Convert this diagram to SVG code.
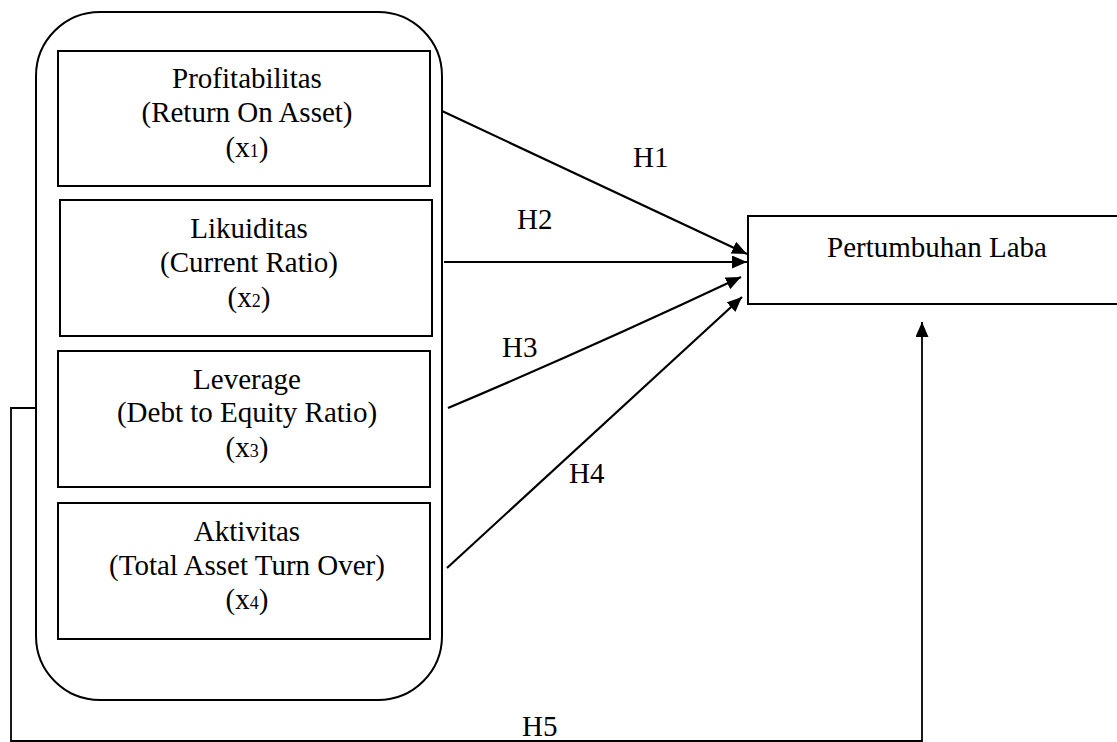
<svg xmlns="http://www.w3.org/2000/svg" width="1117" height="742" viewBox="0 0 1117 742">
<style>
  .box{fill:#fff;stroke:#000;stroke-width:2}
  .t{font-family:"Liberation Serif","Times New Roman",serif;font-size:29px;fill:#000;text-anchor:middle}
  .lbl{font-family:"Liberation Serif","Times New Roman",serif;font-size:29px;fill:#000}
  .sub{font-size:18px}
  .c{fill:none;stroke:#000;stroke-width:2.2}
  .c5{fill:none;stroke:#000;stroke-width:1.8}
</style>
<defs>
  <marker id="ah" markerUnits="userSpaceOnUse" markerWidth="16" markerHeight="14" refX="15" refY="6.5" orient="auto">
    <path d="M0,0 L15,6.5 L0,13 Z" fill="#000"/>
  </marker>
</defs>
<rect width="1117" height="742" fill="#fff"/>
<g id="group-outer">
  <rect class="box" x="36" y="12" width="406" height="688" rx="64" ry="64"/>
</g>
<g id="node-x1">
  <rect class="box" x="58" y="51" width="372" height="135"/>
  <text class="t" x="247" y="88">Profitabilitas</text>
  <text class="t" x="247" y="122">(Return On Asset)</text>
  <text class="t" x="247" y="157">(x<tspan class="sub">1</tspan>)</text>
</g>
<g id="node-x2">
  <rect class="box" x="60" y="200" width="372" height="136"/>
  <text class="t" x="249" y="238">Likuiditas</text>
  <text class="t" x="249" y="272">(Current Ratio)</text>
  <text class="t" x="249" y="307">(x<tspan class="sub">2</tspan>)</text>
</g>
<g id="node-x3">
  <rect class="box" x="58" y="351" width="372" height="136"/>
  <text class="t" x="247" y="389">Leverage</text>
  <text class="t" x="247" y="422">(Debt to Equity Ratio)</text>
  <text class="t" x="247" y="457">(x<tspan class="sub">3</tspan>)</text>
</g>
<g id="node-x4">
  <rect class="box" x="58" y="503" width="372" height="136"/>
  <text class="t" x="247" y="541">Aktivitas</text>
  <text class="t" x="247" y="575">(Total Asset Turn Over)</text>
  <text class="t" x="247" y="609">(x<tspan class="sub">4</tspan>)</text>
</g>
<g id="node-y">
  <rect class="box" x="748" y="216" width="380" height="88"/>
  <text class="t" x="937" y="257">Pertumbuhan Laba</text>
</g>
<g id="connectors">
  <line class="c" x1="442" y1="111" x2="747" y2="254" marker-end="url(#ah)"/>
  <line class="c" x1="444" y1="262" x2="747" y2="262" marker-end="url(#ah)"/>
  <path class="c" d="M448,408 Q590,348 741,277" marker-end="url(#ah)"/>
  <line class="c" x1="447" y1="568" x2="742" y2="297" marker-end="url(#ah)"/>
  <path class="c5" d="M36,408 L11,408 L11,741 L922,741 L922,322" marker-end="url(#ah)"/>
  <text class="lbl" x="633" y="167">H1</text>
  <text class="lbl" x="517" y="229">H2</text>
  <text class="lbl" x="502" y="357">H3</text>
  <text class="lbl" x="569" y="483">H4</text>
  <text class="lbl" x="522" y="736">H5</text>
</g>
</svg>
